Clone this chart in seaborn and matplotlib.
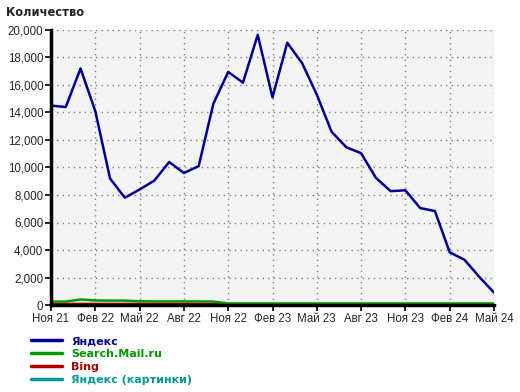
import numpy as np
import pandas as pd
import matplotlib
matplotlib.use("Agg")
import matplotlib.pyplot as plt
import seaborn as sns
from matplotlib.ticker import FuncFormatter

months = list(range(31))  # Nov 2021 .. May 2024
tick_labels = ["Ноя 21", "Фев 22", "Май 22", "Авг 22", "Ноя 22", "Фев 23",
               "Май 23", "Авг 23", "Ноя 23", "Фев 24", "Май 24"]

yandex = [14500, 14400, 17200, 14100, 9200, 7800, 8400, 9050, 10400, 9600,
          10100, 14650, 16950, 16170, 19650, 15100, 19070, 17600, 15300, 12600,
          11470, 11040, 9250, 8280, 8340, 7050, 6830, 3830, 3290, 2050, 900]
mail = [250, 250, 400, 330, 320, 320, 270, 260, 260, 260, 260, 250, 110,
        110, 110, 110, 110, 110, 110, 110, 110, 110, 110, 110, 110, 110,
        110, 110, 110, 110, 110]
bing = [80, 80, 80, 80, 80, 80, 80, 80, 80, 80, 80, 80, 20,
        0, 0, 0, 0, 0, 0, 0, 0, 0, 0, 0, 0, 0, 0, 0, 0, 0, 0]
images = [np.nan] * 6 + [5, 5, 5] + [np.nan] * 22

series_names = ["Яндекс", "Search.Mail.ru", "Bing", "Яндекс (картинки)"]
colors = ["#000099", "#009900", "#aa0000", "#009999"]

df = pd.DataFrame({
    "month": months * 4,
    "value": yandex + mail + bing + images,
    "series": sum([[n] * 31 for n in series_names], []),
})

sns.set_style("white")
plt.rcParams["font.family"] = ["Liberation Sans", "DejaVu Sans"]

fig = plt.figure(figsize=(5.2, 3.92), dpi=100)
ax = fig.add_axes([51 / 520, 1 - 305 / 392, (494 - 51) / 520, (305 - 30) / 392])
ax.set_facecolor("#f4f4f4")

draw_order = ["Яндекс (картинки)", "Bing", "Search.Mail.ru", "Яндекс"]
pal = dict(zip(series_names, colors))
for name in draw_order:
    sub = df[df["series"] == name]
    sns.lineplot(data=sub, x="month", y="value", color=pal[name], lw=1.8,
                 ax=ax, legend=False, zorder=3)

ax.set_xlim(0, 30)
ax.set_ylim(0, 20000)
ax.set_xticks(range(0, 31, 3))
ax.set_xticklabels(tick_labels)
ax.set_yticks(range(0, 20001, 2000))
ax.yaxis.set_major_formatter(FuncFormatter(lambda v, p: f"{int(v):,}"))
ax.set_xlabel("")
ax.set_ylabel("")

ax.grid(True, color="#808080", linestyle=(0, (1, 3)), linewidth=1)
for s in ["top", "right"]:
    ax.spines[s].set_visible(False)
for s in ["left", "bottom"]:
    ax.spines[s].set_color("black")
    ax.spines[s].set_linewidth(2.5)
    ax.spines[s].set_zorder(4)
ax.tick_params(axis="both", which="major", direction="out", length=4,
               width=1.2, color="black", labelsize=8.3, pad=1.5,
               left=True, bottom=True)

fig.text(6 / 520, 1 - 13 / 392, "Количество", fontsize=8.3, fontweight="bold",
         family="DejaVu Sans", va="center", ha="left")

handles = [plt.Line2D([], [], color=c, lw=2.5) for c in colors]
leg = fig.legend(handles, series_names, loc="upper left",
                 bbox_to_anchor=(31 / 520, 1 - 336 / 392), frameon=False,
                 borderpad=0, borderaxespad=0, handlelength=2.8,
                 handletextpad=0.8, labelspacing=0.28,
                 prop={"family": "DejaVu Sans", "weight": "bold", "size": 8})
for t, c in zip(leg.get_texts(), colors):
    t.set_color(c)

fig.savefig("out.png", dpi=100)
